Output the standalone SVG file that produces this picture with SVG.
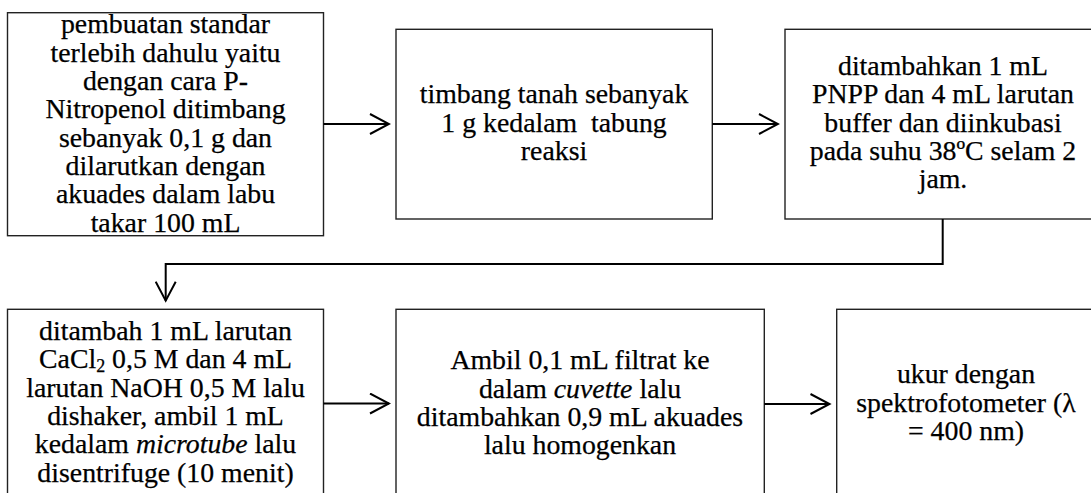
<svg xmlns="http://www.w3.org/2000/svg" width="1091" height="493" viewBox="0 0 1091 493">
<style>
.box{fill:#fff;stroke:#222;stroke-width:1.4}
.t{font-family:"Liberation Serif","Times New Roman",serif;font-size:27.8px;fill:#000;stroke:#000;stroke-width:0.25;text-anchor:middle}
.c{fill:none;stroke:#000;stroke-width:2}
.i{font-style:italic}
.sub{font-size:18px}
</style>
<defs>
<marker id="ah" markerUnits="userSpaceOnUse" viewBox="0 0 22 22" refX="20" refY="11" markerWidth="22" markerHeight="22" orient="auto">
<path d="M1,1 L20,11 L1,21" fill="none" stroke="#000" stroke-width="2"/>
</marker>
</defs>
<rect width="1091" height="493" fill="#fff"/>
<g id="n1">
<rect class="box" x="7.5" y="12.7" width="316" height="223"/>
<text class="t" x="165.5" y="33.3">pembuatan standar</text>
<text class="t" x="165.5" y="61.7">terlebih dahulu yaitu</text>
<text class="t" x="165.5" y="90">dengan cara P-</text>
<text class="t" x="165.5" y="118.3">Nitropenol ditimbang</text>
<text class="t" x="165.5" y="146.7">sebanyak 0,1 g dan</text>
<text class="t" x="165.5" y="175">dilarutkan dengan</text>
<text class="t" x="165.5" y="203.3">akuades dalam labu</text>
<text class="t" x="165.5" y="231.7">takar 100 mL</text>
</g>
<g id="n2">
<rect class="box" x="396" y="29.3" width="316.3" height="189.7"/>
<text class="t" x="554" y="103.3">timbang tanah sebanyak</text>
<text class="t" x="554" y="131.7" xml:space="preserve">1 g kedalam  tabung</text>
<text class="t" x="554" y="160">reaksi</text>
</g>
<g id="n3">
<rect class="box" x="785" y="29.3" width="316" height="189.7"/>
<text class="t" x="943" y="75">ditambahkan 1 mL</text>
<text class="t" x="943" y="103.3">PNPP dan 4 mL larutan</text>
<text class="t" x="943" y="131.7">buffer dan diinkubasi</text>
<text class="t" x="943" y="160">pada suhu 38ºC selam 2</text>
<text class="t" x="943" y="188.3">jam.</text>
</g>
<g id="n4">
<rect class="box" x="7.5" y="309.3" width="316" height="200"/>
<text class="t" x="165.5" y="340">ditambah 1 mL larutan</text>
<text class="t" x="165.5" y="368.3">CaCl<tspan class="sub" dy="4">2</tspan><tspan dy="-4"> 0,5 M dan 4 mL</tspan></text>
<text class="t" x="165.5" y="396.7">larutan NaOH 0,5 M lalu</text>
<text class="t" x="165.5" y="425">dishaker, ambil 1 mL</text>
<text class="t" x="165.5" y="453.3">kedalam <tspan class="i">microtube</tspan> lalu</text>
<text class="t" x="165.5" y="481.7">disentrifuge (10 menit)</text>
</g>
<g id="n5">
<rect class="box" x="396" y="309.3" width="368.3" height="200"/>
<text class="t" x="580" y="369.3">Ambil 0,1 mL filtrat ke</text>
<text class="t" x="580" y="397.7">dalam <tspan class="i">cuvette</tspan> lalu</text>
<text class="t" x="580" y="426">ditambahkan 0,9 mL akuades</text>
<text class="t" x="580" y="454.3">lalu homogenkan</text>
</g>
<g id="n6">
<rect class="box" x="836.7" y="309.3" width="260" height="200"/>
<text class="t" x="966" y="383.3">ukur dengan</text>
<text class="t" x="966" y="411.7">spektrofotometer (λ</text>
<text class="t" x="966" y="440">= 400 nm)</text>
</g>
<g id="connectors">
<line class="c" x1="323.5" y1="124" x2="389" y2="124" marker-end="url(#ah)"/>
<line class="c" x1="712.3" y1="124" x2="778" y2="124" marker-end="url(#ah)"/>
<polyline class="c" points="942.7,219 942.7,264 165.7,264 165.7,300.7" marker-end="url(#ah)"/>
<line class="c" x1="323.5" y1="403.5" x2="389" y2="403.5" marker-end="url(#ah)"/>
<line class="c" x1="764.3" y1="404" x2="829.5" y2="404" marker-end="url(#ah)"/>
</g>
</svg>
